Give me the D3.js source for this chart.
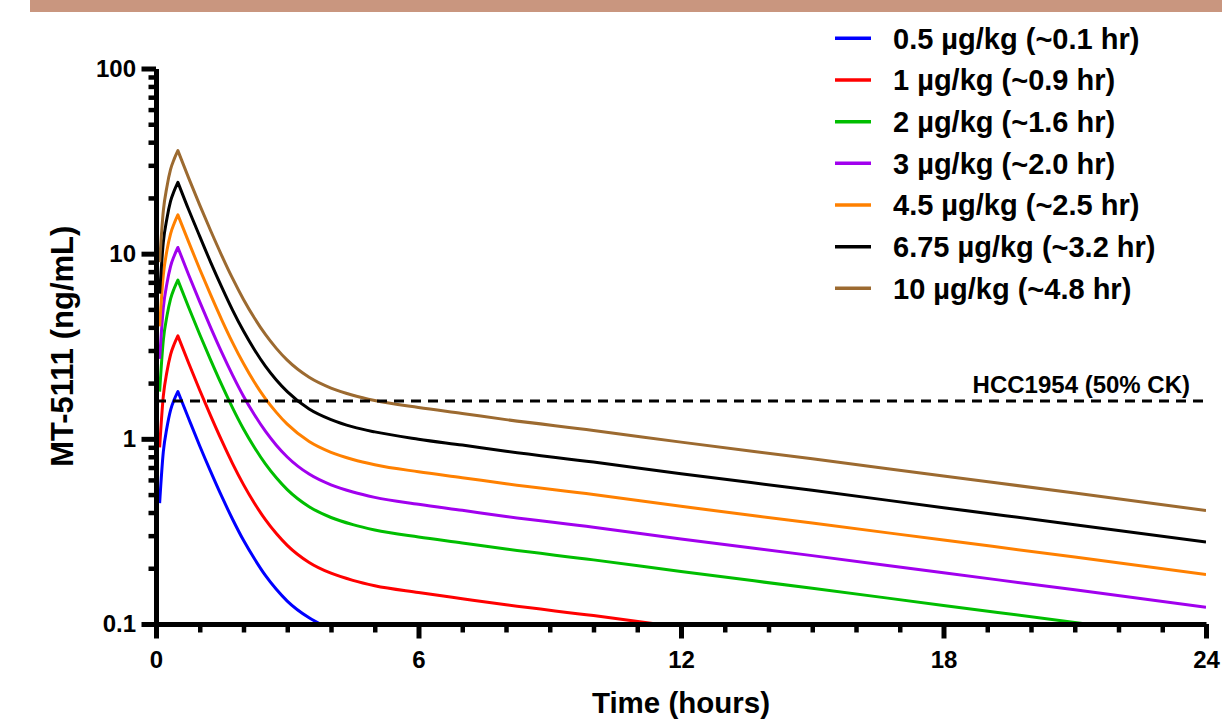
<!DOCTYPE html>
<html>
<head>
<meta charset="utf-8">
<script src="https://cdn.jsdelivr.net/npm/d3@7"></script>
<style>
    body { margin: 0; background: #fff; }
    svg { display: block; font-family: "Liberation Sans", Arial, sans-serif; font-weight: bold; }
</style>
</head>
<body>
<svg id="chart" width="1222" height="724"></svg>
<script>
// sampling times (hours), shared by every dose
const times = [0.083, 0.167, 0.25, 0.333, 0.417, 0.5, 0.75, 1, 1.25, 1.5, 1.75, 2, 2.25, 2.5, 2.75, 3,
    3.5, 4, 4.5, 5, 6, 7, 8, 10, 12, 15, 18, 21, 24];

// concentrations (ng/mL), one list per dose
const dose05 = [0.45, 0.85, 1.15, 1.43, 1.63, 1.80, 1.28, 0.915, 0.665, 0.49, 0.368, 0.283, 0.225, 0.183, 0.154, 0.133,
    0.108, 0.094];
const dose1 = [0.90, 1.70, 2.30, 2.85, 3.25, 3.60, 2.55, 1.83, 1.33, 0.98, 0.735, 0.566, 0.449, 0.366, 0.308, 0.266,
    0.215, 0.188, 0.172, 0.161, 0.148, 0.137, 0.127, 0.111, 0.096];
const dose2 = [1.80, 3.40, 4.60, 5.70, 6.50, 7.20, 5.10, 3.66, 2.66, 1.96, 1.47, 1.13, 0.898, 0.732, 0.616, 0.532,
    0.430, 0.376, 0.344, 0.322, 0.295, 0.274, 0.254, 0.222, 0.192, 0.156, 0.126, 0.102, 0.082];
const dose3 = [2.70, 5.10, 6.90, 8.55, 9.75, 10.8, 7.65, 5.49, 3.99, 2.94, 2.21, 1.70, 1.35, 1.10, 0.924, 0.798,
    0.645, 0.564, 0.516, 0.483, 0.443, 0.411, 0.381, 0.333, 0.288, 0.234, 0.189, 0.153, 0.123];
const dose45 = [4.05, 7.65, 10.4, 12.8, 14.6, 16.2, 11.5, 8.24, 5.99, 4.41, 3.31, 2.55, 2.02, 1.65, 1.39, 1.20,
    0.968, 0.846, 0.774, 0.725, 0.664, 0.617, 0.572, 0.500, 0.432, 0.351, 0.284, 0.230, 0.185];
const dose675 = [6.08, 11.5, 15.5, 19.2, 21.9, 24.3, 17.2, 12.4, 8.98, 6.62, 4.96, 3.82, 3.03, 2.47, 2.08, 1.80,
    1.45, 1.27, 1.16, 1.09, 0.996, 0.925, 0.857, 0.749, 0.648, 0.527, 0.425, 0.344, 0.277];
const dose10 = [9.0, 17, 23, 28.5, 32.5, 36, 25.5, 18.3, 13.3, 9.8, 7.35, 5.66, 4.49, 3.66, 3.08, 2.66,
    2.15, 1.88, 1.72, 1.61, 1.475, 1.37, 1.27, 1.11, 0.96, 0.78, 0.63, 0.51, 0.41];

const labels = ['0.5 µg/kg (~0.1 hr)', '1 µg/kg (~0.9 hr)', '2 µg/kg (~1.6 hr)', '3 µg/kg (~2.0 hr)',
    '4.5 µg/kg (~2.5 hr)', '6.75 µg/kg (~3.2 hr)', '10 µg/kg (~4.8 hr)'];
const colors = ['#0000FF', '#FF0000', '#00BE00', '#A100EE', '#FF8000', '#000000', '#9C6A30'];

const xTicks = [0, 6, 12, 18, 24];
const yTicks = [0.1, 1, 10, 100];
const threshold = 1.6;
const thresholdLabel = 'HCC1954 (50% CK)';

const series = [dose05, dose1, dose2, dose3, dose45, dose675, dose10].map((vals, i) => ({
    label: labels[i],
    color: colors[i],
    points: vals.map((v, j) => ({ t: times[j], c: v }))
}));

const svg = d3.select('#chart');

const x = d3.scaleLinear().domain([0, 24]).range([156, 1206]);
const y = d3.scaleLog().domain([0.1, 100]).range([624, 68.5]);

// band across the top
svg.append('rect')
    .attr('x', 30)
    .attr('y', 0)
    .attr('width', 1192)
    .attr('height', 12)
    .attr('fill', '#C9967F');

svg.append('clipPath')
    .attr('id', 'plot')
    .append('rect')
    .attr('x', x(0))
    .attr('y', y(100))
    .attr('width', x(24) - x(0))
    .attr('height', y(0.1) - y(100));

const line = d3.line()
    .x((d) => x(d.t))
    .y((d) => y(d.c))
    .curve(d3.curveMonotoneX);

// smooth rise and smooth fall, joined at a sharp peak
function curvePath(points) {
    let peak = d3.maxIndex(points, (d) => d.c);
    let rise = line(points.slice(0, peak + 1));
    let fall = line(points.slice(peak)).replace(/^M[^CL]*/, '');
    return rise + fall;
}

svg.append('g')
    .attr('clip-path', 'url(#plot)')
    .selectAll('path')
    .data(series)
    .enter().append('path')
    .attr('d', (d) => curvePath(d.points))
    .attr('fill', 'none')
    .attr('stroke', (d) => d.color)
    .attr('stroke-width', 3)
    .attr('stroke-linejoin', 'round');

// threshold line
svg.append('line')
    .attr('x1', x(0))
    .attr('x2', x(24))
    .attr('y1', y(threshold))
    .attr('y2', y(threshold))
    .attr('stroke', '#000')
    .attr('stroke-width', 3)
    .attr('stroke-dasharray', '10,7');

svg.append('text')
    .attr('x', 1190)
    .attr('y', y(threshold) - 8)
    .attr('text-anchor', 'end')
    .style('font-size', '24px')
    .text(thresholdLabel);

// minor ticks
let yMinor = [];
[0.1, 1, 10].forEach((dec) => {
    for (let k = 2; k <= 9; k++) yMinor.push(dec * k);
});
let xMinor = d3.range(0, 25).filter((h) => h % 6 !== 0);

function styleAxis(g) {
    g.select('.domain').attr('stroke-width', 5);
    g.selectAll('.tick line').attr('stroke-width', 5);
    g.selectAll('.tick text')
        .attr('fill', '#000')
        .style('font-size', '24px')
        .style('font-family', '"Liberation Sans", Arial, sans-serif')
        .style('font-weight', 'bold');
}

svg.append('g')
    .attr('transform', 'translate(0,' + y(0.1) + ')')
    .call(d3.axisBottom(x).tickValues(xMinor).tickSize(8.5).tickSizeOuter(0).tickFormat(''))
    .call((g) => { g.select('.domain').remove(); g.selectAll('.tick line').attr('stroke-width', 4.5); });

svg.append('g')
    .attr('transform', 'translate(' + x(0) + ',0)')
    .call(d3.axisLeft(y).tickValues(yMinor).tickSize(7.5).tickSizeOuter(0).tickFormat(''))
    .call((g) => { g.select('.domain').remove(); g.selectAll('.tick line').attr('stroke-width', 4.5); });

svg.append('g')
    .attr('transform', 'translate(0,' + y(0.1) + ')')
    .call(d3.axisBottom(x).tickValues(xTicks).tickSize(14.5).tickSizeOuter(0).tickPadding(12).tickFormat(d3.format('d')))
    .call(styleAxis);

svg.append('g')
    .attr('transform', 'translate(' + x(0) + ',0)')
    .call(d3.axisLeft(y).tickValues(yTicks).tickSize(14.5).tickSizeOuter(0).tickPadding(5.5)
        .tickFormat((d) => d < 1 ? d.toString() : d3.format('d')(d)))
    .call(styleAxis);

// axis titles
svg.append('text')
    .attr('transform', 'translate(73,' + ((y(0.1) + y(100)) / 2) + ') rotate(-90)')
    .attr('text-anchor', 'middle')
    .style('font-size', '31px')
    .text('MT-5111 (ng/mL)');

svg.append('text')
    .attr('x', (x(0) + x(24)) / 2)
    .attr('y', 713)
    .attr('text-anchor', 'middle')
    .style('font-size', '29.5px')
    .text('Time (hours)');

// legend
const rowHeight = 41.67;
let legend = svg.append('g')
    .selectAll('g')
    .data(series)
    .enter().append('g')
    .attr('transform', (d, i) => 'translate(0,' + (38.3 + rowHeight * i) + ')');
legend.append('line')
    .attr('x1', 835)
    .attr('x2', 871)
    .attr('stroke', (d) => d.color)
    .attr('stroke-width', 3.5);
legend.append('text')
    .attr('x', 893)
    .attr('y', 10.5)
    .style('font-size', '29px')
    .text((d) => d.label);
</script>
</body>
</html>
